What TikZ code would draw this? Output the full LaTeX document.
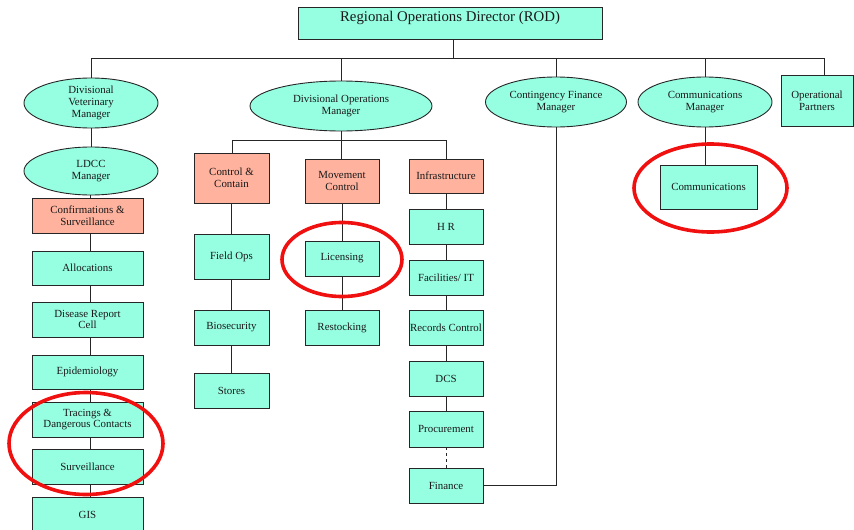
\documentclass[tikz,border=0pt]{standalone}
\usepackage{fontspec}
\setmainfont{Liberation Serif}
\usetikzlibrary{shapes.geometric,shadows}
\definecolor{aqua}{RGB}{150,255,225}
\definecolor{salmon}{RGB}{255,178,158}
\definecolor{ring}{RGB}{240,16,16}
\begin{document}
\begin{tikzpicture}[x=1pt,y=-1pt,
  lbl/.style={font=\fontsize{10.9}{11.8}\selectfont, align=center, text=black!90},
  rbox/.style={lbl, draw=black!85, line width=0.9pt, rectangle, inner sep=1pt,
     drop shadow={shadow xshift=1.2pt,shadow yshift=-1.2pt,fill=black!45,opacity=1}},
  abox/.style={rbox, fill=aqua},
  sbox/.style={rbox, fill=salmon},
  oval/.style={lbl, draw=black!85, line width=0.9pt, ellipse, fill=aqua, inner sep=0pt},
  wire/.style={draw=black!85, line width=0.8pt},
  hoop/.style={draw=ring, line width=3.6pt}]
\useasboundingbox (0,0) rectangle (854,530);
\clip (0,0) rectangle (854,530);
% top
\node[abox, minimum width=304, minimum height=32, text height=10pt, text depth=14pt,
  font=\fontsize{14.8}{16}\selectfont] (rod) at (450,23) {Regional Operations Director (ROD)};
\node[oval, minimum width=134, minimum height=50] (dvm) at (91,103) {Divisional\\Veterinary\\Manager};
\node[oval, minimum width=134, minimum height=48] (ldcc) at (91,171) {LDCC\\Manager};
\node[oval, minimum width=182, minimum height=50] (dom) at (341,106) {Divisional Operations\\Manager};
\node[oval, minimum width=141, minimum height=50] (cfm) at (556,102) {Contingency Finance\\Manager};
\node[oval, minimum width=134, minimum height=50] (cm) at (705,102) {Communications\\Manager};
\node[abox, minimum width=72, minimum height=51] (op) at (817,100.5) {Operational\\Partners};
% left column
\node[sbox, minimum width=111, minimum height=35] (conf) at (87.5,215.5) {Confirmations \&\\Surveillance};
\node[abox, minimum width=111, minimum height=34] (alloc) at (87.5,268) {Allocations};
\node[abox, minimum width=111, minimum height=35] (drc) at (87.5,319.5) {Disease Report\\Cell};
\node[abox, minimum width=111, minimum height=34] (epi) at (87.5,372) {Epidemiology};
\node[abox, minimum width=111, minimum height=35] (trac) at (87.5,419.5) {Tracings \&\\Dangerous Contacts};
\node[abox, minimum width=111, minimum height=35] (surv) at (87.5,466.5) {Surveillance};
\node[abox, minimum width=111, minimum height=35] (gis) at (87.5,514.5) {GIS};
% middle columns
\node[sbox, minimum width=75, minimum height=50] (cc) at (231.5,178) {Control \&\\Contain};
\node[sbox, minimum width=74, minimum height=44] (mc) at (342,181) {Movement\\Control};
\node[sbox, minimum width=74, minimum height=34] (inf) at (446,176) {Infrastructure};
\node[abox, minimum width=75, minimum height=45] (fops) at (231.5,256.5) {Field Ops};
\node[abox, minimum width=75, minimum height=35] (bio) at (231.5,327.5) {Biosecurity};
\node[abox, minimum width=75, minimum height=35] (sto) at (231.5,390.5) {Stores};
\node[abox, minimum width=74, minimum height=35] (lic) at (342,258.5) {Licensing};
\node[abox, minimum width=74, minimum height=35] (rest) at (342,327.5) {Restocking};
\node[abox, minimum width=74, minimum height=35] (hr) at (446,226.5) {H R};
\node[abox, minimum width=74, minimum height=35] (fac) at (446,277.5) {Facilities/ IT};
\node[abox, minimum width=74, minimum height=35, inner sep=0pt] (rec) at (446,327.5) {Records Control};
\node[abox, minimum width=74, minimum height=35] (dcs) at (446,378.5) {DCS};
\node[abox, minimum width=74, minimum height=36] (proc) at (446,429) {Procurement};
\node[abox, minimum width=74, minimum height=35] (fin) at (446,485.5) {Finance};
\node[abox, minimum width=97, minimum height=44] (comm) at (708.5,187) {Communications};
% connectors
\coordinate (rodj) at (453,58);
\coordinate (bl) at (91,58);
\coordinate (br) at (824,58);
\draw[wire] (rod.south -| rodj) -- (rodj);
\draw[wire] (bl) -- (br);
\draw[wire] (bl) -- (dvm.north);
\draw[wire] (dom.north |- bl) -- (dom.north);
\draw[wire] (cfm.north |- bl) -- (cfm.north);
\draw[wire] (cm.north |- bl) -- (cm.north);
\draw[wire] (br) -- (br |- op.north);
\draw[wire] (dvm.south) -- (ldcc.north);
\coordinate (lx) at (90,0);
\draw[wire] (ldcc.south -| lx) -- (conf.north -| lx);
\foreach \a/\b in {conf/alloc,alloc/drc,drc/epi,epi/trac,trac/surv,surv/gis}
  \draw[wire] (\a.south -| lx) -- (\b.north -| lx);
\coordinate (dj) at (341,140);
\coordinate (dl) at (232,140);
\coordinate (dr) at (446,140);
\draw[wire] (dom.south) -- (dj);
\draw[wire] (dl) -- (dr);
\draw[wire] (dl) -- (cc.north -| dl);
\draw[wire] (dj) -- (mc.north -| dj);
\draw[wire] (dr) -- (inf.north);
\draw[wire] (cc.south) -- (fops.north);
\draw[wire] (fops.south) -- (bio.north);
\draw[wire] (bio.south) -- (sto.north);
\draw[wire] (mc.south) -- (lic.north);
\draw[wire] (lic.south) -- (rest.north);
\foreach \a/\b in {inf/hr,hr/fac,fac/rec,rec/dcs,dcs/proc}
  \draw[wire] (\a.south) -- (\b.north);
\draw[wire, dashed] (proc.south) -- (fin.north);
\draw[wire] (fin.east) -| (cfm.south);
\draw[wire] (cm.south -| 705,0) -- (comm.north -| 705,0);
% red rings
\draw[hoop] (86,443.5) ellipse [x radius=77, y radius=51];
\draw[hoop] (342,259.5) ellipse [x radius=60, y radius=37];
\draw[hoop] (710.5,188) ellipse [x radius=76.5, y radius=44];
\end{tikzpicture}
\end{document}
